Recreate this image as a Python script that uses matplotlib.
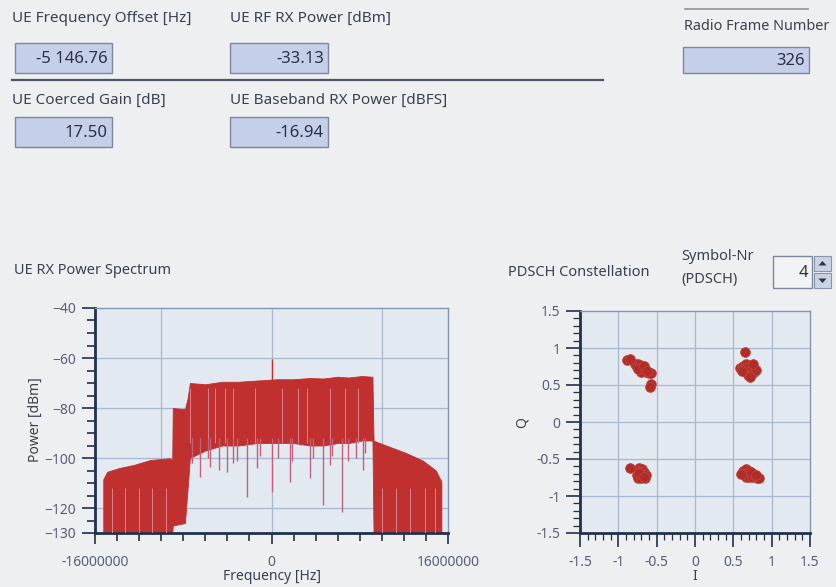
import matplotlib
matplotlib.use("Agg")
import matplotlib.pyplot as plt
from matplotlib.patches import Rectangle, Polygon
from matplotlib.ticker import MultipleLocator, FixedLocator

plt.rcParams["font.family"] = ["Noto Sans", "DejaVu Sans"]

# numeric indicators on the front panel
READOUT_LABELS = ["UE Frequency Offset [Hz]", "UE RF RX Power [dBm]",
                  "UE Coerced Gain [dB]", "UE Baseband RX Power [dBFS]",
                  "Radio Frame Number"]
READOUT_VALUES = ["-5 146.76", "-33.13", "17.50", "-16.94", "326"]
SYMBOL_NR = "4"

# power spectrum (MHz, dBm)
SPEC_FREQ_MHZ = [-15.25, -14.9, -13.8, -12.5, -11.0, -9.2, -9.0, -8.95, -7.85, -7.6,
                 -7.4, -6.0, -4.5, -3.0, -1.3, 0.5, 2.0, 3.5, 4.7, 6.0, 7.0, 8.2, 9.15,
                 9.25, 9.5, 10.7, 12.2, 13.7, 14.9, 15.4]
SPEC_UPPER_DBM = [-108.5, -105.5, -104.0, -102.8, -100.8, -100.1, -101.0, -80.0, -80.5,
                  -76.0, -70.0, -70.5, -69.5, -69.5, -69.0, -68.5, -68.5, -68.0, -68.2,
                  -67.5, -67.8, -67.2, -67.5, -93.0, -93.5, -95.5, -98.0, -101.0,
                  -105.0, -109.5]
SPEC_LOWER_DBM = [-130, -130, -130, -130, -130, -130, -130, -127, -126, -112, -100, -97,
                  -95, -95, -94, -94, -94, -95, -95, -94, -94, -93, -93, -130, -130,
                  -130, -130, -130, -130, -130]
# notches reaching below the dense part of the band
DIP_FREQ_MHZ = [-7.24, -6.5, -5.73, -5.6, -4.8, -4.05, -3.45, -3.16, -2.25, -1.35, -1.04,
                0.0, 0.62, 1.7, 1.83, 3.5, 3.79, 4.7, 5.3, 5.46, 6.35, 6.96, 7.7, 8.3,
                8.48]
DIP_DBM = [-102.0, -107.5, -100.0, -103.5, -104.8, -105.5, -102.0, -101.0, -115.5,
           -104.0, -99.0, -113.5, -100.0, -109.5, -101.0, -107.8, -100.0, -118.8,
           -102.8, -99.0, -121.5, -101.0, -100.1, -104.8, -98.0]
# lighter streaks inside the dense part of the trace
STREAK_MAIN_MHZ = [-7.39, -5.73, -5.12, -4.21, -3.46, -1.5, 0.92, 2.43, 3.19, 5.3,
                   6.66, 7.87]
STREAK_SIDE_MHZ = [-14.5, -13.3, -12.0, -10.8, -9.6, 10.0, 11.3, 12.6, 13.9, 14.8]
# DC spike
SPIKE_FREQ_MHZ = [0.0]
SPIKE_DBM = [-60.5]

# PDSCH constellation points (I, Q)
CONST_I = [-0.78, -0.75, -0.76, -0.72, -0.72, -0.69, -0.68, -0.65, -0.64, -0.70, -0.60,
           -0.57, -0.74, -0.67, -0.62, -0.89, -0.85, -0.58, -0.59,
           0.59, 0.63, 0.67, 0.63, 0.67, 0.71, 0.66, 0.70, 0.74, 0.69, 0.73, 0.77, 0.79,
           0.61, 0.75, 0.72, 0.65,
           -0.73, -0.69, -0.75, -0.71, -0.67, -0.76, -0.72, -0.68, -0.64, -0.75, -0.70,
           -0.65, -0.73, -0.66, -0.85,
           0.62, 0.66, 0.70, 0.64, 0.68, 0.72, 0.76, 0.66, 0.70, 0.74, 0.78, 0.81, 0.84,
           0.60, 0.73, 0.79]
CONST_Q = [0.79, 0.79, 0.75, 0.77, 0.73, 0.74, 0.70, 0.71, 0.67, 0.68, 0.66,
           0.66, 0.71, 0.76, 0.69, 0.84, 0.85, 0.52, 0.47,
           0.73, 0.76, 0.78, 0.71, 0.73, 0.75, 0.67, 0.69, 0.71, 0.63, 0.64, 0.67, 0.70,
           0.69, 0.78, 0.61, 0.94,
           -0.62, -0.63, -0.67, -0.67, -0.67, -0.72, -0.72, -0.71, -0.71, -0.76, -0.76,
           -0.76, -0.69, -0.74, -0.62,
           -0.66, -0.64, -0.66, -0.70, -0.70, -0.69, -0.70, -0.74, -0.74, -0.74, -0.73,
           -0.75, -0.76, -0.70, -0.67, -0.71]

W, H = 836, 587
BG = "#edeff0"
PLOT_BG = "#e3e9f0"
TEXT = "#3a4152"
TICK_TEXT = "#56607a"
AXIS_DARK = "#22304c"
FRAME = "#8596b4"
GRID = "#a9b8cf"
TRACE = "#bf302e"
DIP = "#c4607a"
STREAK = "#d9818f"
BOX_FILL = "#c6cfea"
BOX_EDGE = "#7d879e"


def fig_rect(x, y, w, h):
    """Pixel box (top-left origin) -> figure fraction rect."""
    return [x / W, 1 - (y + h) / H, w / W, h / H]


fig = plt.figure(figsize=(W / 100, H / 100), dpi=100, facecolor=BG)

# panel layer in pixel coordinates
ui = fig.add_axes([0, 0, 1, 1])
ui.set_xlim(0, W)
ui.set_ylim(H, 0)
ui.axis("off")


def indicator(x, y, w, h, value, fill=BOX_FILL):
    ui.add_patch(Rectangle((x, y), w, h, facecolor=fill, edgecolor=BOX_EDGE, lw=1.0))
    ui.text(x + w - 4, y + h / 2 + 1, value, ha="right", va="center",
            fontsize=12, color="#2a3142")


label_pos = [(12, 18), (230, 18), (12, 100), (230, 100), (684, 26)]
label_size = [11, 11, 11, 11, 10.4]
box_pos = [(15, 43, 97, 30), (230, 43, 98, 30), (15, 117, 97, 30),
           (230, 117, 98, 30), (683, 47, 126, 26)]
for lab, val, (lx, ly), fs, (bx, by, bw, bh) in zip(READOUT_LABELS, READOUT_VALUES,
                                                      label_pos, label_size, box_pos):
    ui.text(lx, ly, lab, ha="left", va="center", fontsize=fs, color=TEXT)
    indicator(bx, by, bw, bh, val)

# separator lines
ui.plot([12, 603], [80, 80], color="#4c5466", lw=1.6)
ui.plot([685, 808], [9, 9], color="#8a92a2", lw=1.2)

# section titles
ui.text(14, 270, "UE RX Power Spectrum", ha="left", va="center", fontsize=10.5, color=TEXT)
ui.text(508, 272, "PDSCH Constellation", ha="left", va="center", fontsize=10.5, color=TEXT)
ui.text(681, 257, "Symbol-Nr", ha="left", va="center", fontsize=10.5, color=TEXT)
ui.text(681, 280, "(PDSCH)", ha="left", va="center", fontsize=10.5, color=TEXT)

# symbol number control with spinner
indicator(773, 256, 39, 32, SYMBOL_NR, fill="#f1f3f5")
for y0, up in [(256, True), (273, False)]:
    ui.add_patch(Rectangle((814, y0), 17, 15, facecolor="#c9d3e4", edgecolor="#8a95aa", lw=0.8))
    cx, cy = 822.5, y0 + 7.5
    tri = [(cx - 4, cy + 2), (cx + 4, cy + 2), (cx, cy - 2.5)] if up else \
          [(cx - 4, cy - 2), (cx + 4, cy - 2), (cx, cy + 2.5)]
    ui.add_patch(Polygon(tri, closed=True, facecolor="#2d3446", edgecolor="none"))

# axis titles outside the plots
ui.text(35, 420, "Power [dBm]", rotation=90, ha="center", va="center", fontsize=10, color=TEXT)
ui.text(272, 577, "Frequency [Hz]", ha="center", va="center", fontsize=10, color=TEXT)
ui.text(522, 423, "Q", rotation=90, ha="center", va="center", fontsize=10, color=TEXT)
ui.text(695, 577, "I", ha="center", va="center", fontsize=10, color=TEXT)


def style_axes(ax):
    ax.set_facecolor(PLOT_BG)
    for side in ["top", "right"]:
        ax.spines[side].set_color(FRAME)
        ax.spines[side].set_linewidth(1.0)
    for side in ["left", "bottom"]:
        ax.spines[side].set_color(AXIS_DARK)
        ax.spines[side].set_linewidth(2.0)
    ax.tick_params(which="both", direction="out", colors=AXIS_DARK, labelcolor=TICK_TEXT,
                   labelsize=10, width=1.2)


# ---- spectrum ----
ax1 = fig.add_axes(fig_rect(95, 308, 353, 225))
style_axes(ax1)
f_hz = [v * 1e6 for v in SPEC_FREQ_MHZ]
for gx in [-10e6, 0, 10e6]:
    ax1.axvline(gx, color=GRID, lw=0.9, zorder=1)
for gy in [-60, -80, -100, -120]:
    ax1.axhline(gy, color=GRID, lw=0.9, zorder=1)
ax1.fill_between(f_hz, SPEC_LOWER_DBM, SPEC_UPPER_DBM, color=TRACE, lw=0.6, zorder=2)
ax1.vlines([v * 1e6 for v in STREAK_MAIN_MHZ], -94, -72, color=STREAK, lw=0.7, zorder=3)
ax1.vlines([v * 1e6 for v in STREAK_SIDE_MHZ], -130, -112, color=STREAK, lw=0.7, zorder=3)
ax1.vlines([v * 1e6 for v in DIP_FREQ_MHZ], DIP_DBM, -92, color=DIP, lw=1.0, zorder=3)
ax1.vlines([v * 1e6 for v in SPIKE_FREQ_MHZ], -69, SPIKE_DBM, color=TRACE, lw=1.0, zorder=3)
ax1.set_xlim(-16e6, 16e6)
ax1.set_ylim(-130, -40)
ax1.xaxis.set_major_locator(FixedLocator([-16e6, 0, 16e6]))
ax1.set_xticklabels(["-16000000", "0", "16000000"])
ax1.xaxis.set_minor_locator(MultipleLocator(2e6))
ax1.yaxis.set_major_locator(FixedLocator([-40, -60, -80, -100, -120, -130]))
ax1.yaxis.set_minor_locator(MultipleLocator(5))
ax1.tick_params(axis="y", which="major", length=9.5, pad=4)
ax1.tick_params(axis="y", which="minor", length=6)
ax1.tick_params(axis="x", which="major", length=8, pad=8)
ax1.tick_params(axis="x", which="minor", length=6)

# ---- constellation ----
ax2 = fig.add_axes(fig_rect(580, 311, 230, 222))
style_axes(ax2)
for g in [-1, -0.5, 0, 0.5, 1]:
    ax2.axvline(g, color=GRID, lw=0.9, zorder=1)
    ax2.axhline(g, color=GRID, lw=0.9, zorder=1)
ax2.scatter(CONST_I, CONST_Q, s=50, color="#b02d28", edgecolors="#c4443d",
            linewidths=0.5, zorder=3)
ax2.set_xlim(-1.5, 1.5)
ax2.set_ylim(-1.5, 1.5)
ticks = [-1.5, -1, -0.5, 0, 0.5, 1, 1.5]
labels = ["-1.5", "-1", "-0.5", "0", "0.5", "1", "1.5"]
ax2.set_xticks(ticks)
ax2.set_xticklabels(labels)
ax2.set_yticks(ticks)
ax2.set_yticklabels(labels)
ax2.xaxis.set_minor_locator(MultipleLocator(0.1))
ax2.yaxis.set_minor_locator(MultipleLocator(0.1))
ax2.tick_params(which="major", length=10, pad=4)
ax2.tick_params(which="minor", length=5, width=0.9)
ax2.tick_params(axis="x", which="major", pad=6)

fig.savefig("out.png", dpi=100, facecolor=BG)
